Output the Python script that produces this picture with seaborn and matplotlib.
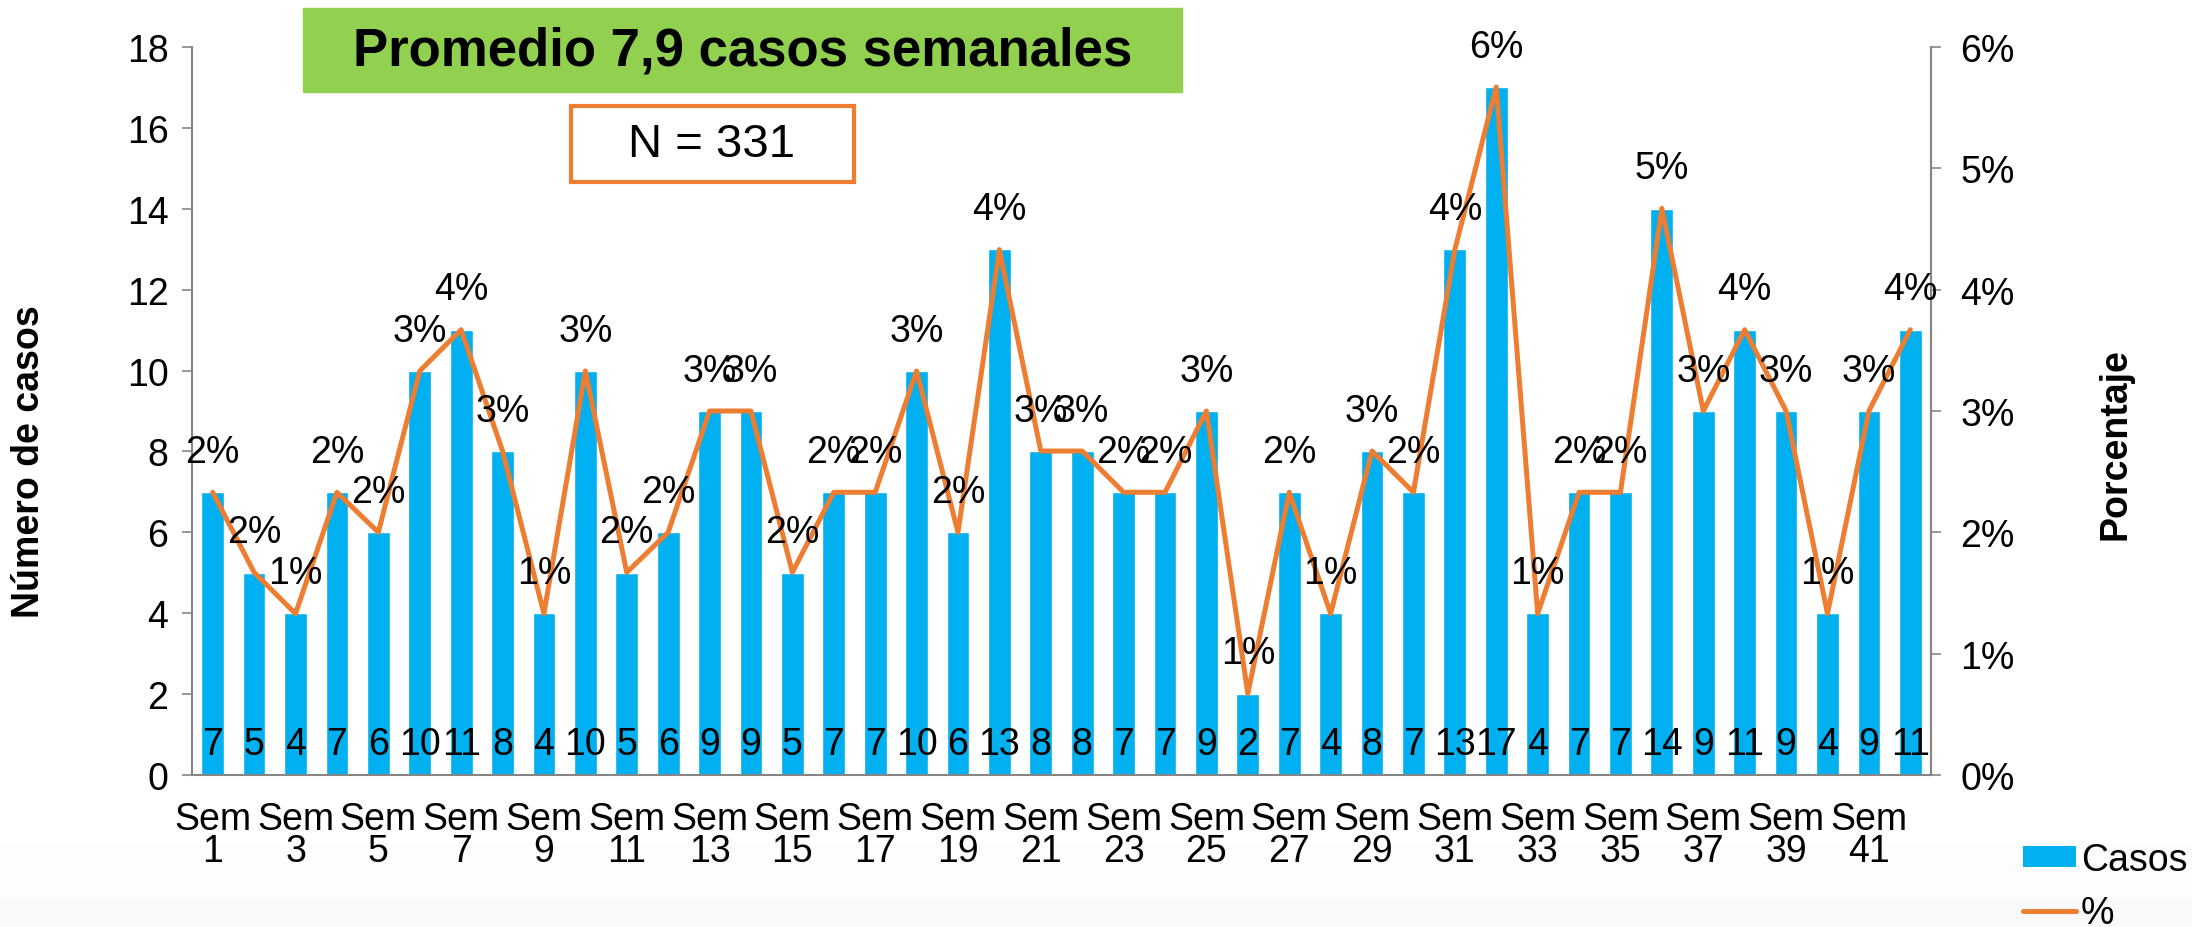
import matplotlib
matplotlib.use("Agg")
from matplotlib import pyplot as plt
from matplotlib.patches import Rectangle, Patch
from matplotlib.lines import Line2D
import numpy as np
import pandas as pd
import seaborn as sns

# datos
semanas = [f"Sem {i}" for i in range(1, 43)]
casos = [7, 5, 4, 7, 6, 10, 11, 8, 4, 10, 5, 6, 9, 9, 5, 7, 7, 10, 6, 13, 8,
         8, 7, 7, 9, 2, 7, 4, 8, 7, 13, 17, 4, 7, 7, 14, 9, 11, 9, 4, 9, 11]
porcentaje = [2.33, 1.67, 1.33, 2.33, 2.0, 3.33, 3.67, 2.67, 1.33, 3.33, 1.67,
              2.0, 3.0, 3.0, 1.67, 2.33, 2.33, 3.33, 2.0, 4.33, 2.67, 2.67,
              2.33, 2.33, 3.0, 0.67, 2.33, 1.33, 2.67, 2.33, 4.33, 5.67, 1.33,
              2.33, 2.33, 4.67, 3.0, 3.67, 3.0, 1.33, 3.0, 3.67]
etiquetas_pct = [2, 2, 1, 2, 2, 3, 4, 3, 1, 3, 2, 2, 3, 3, 2, 2, 2, 3, 2, 4, 3,
                 3, 2, 2, 3, 1, 2, 1, 3, 2, 4, 6, 1, 2, 2, 5, 3, 4, 3, 1, 3, 4]
titulo = "Promedio 7,9 casos semanales"
total = "N = 331"

AZUL = "#00B0F0"
NARANJA = "#ED7D31"
VERDE = "#92D050"
GRIS = "#868686"

sns.set_style("white")
plt.rcParams['font.family'] = ['Liberation Sans', 'DejaVu Sans']
plt.rcParams['text.color'] = 'black'
plt.rcParams['xtick.color'] = 'black'
plt.rcParams['ytick.color'] = 'black'
FS = 27

df = pd.DataFrame({"semana": semanas, "casos": casos, "pct": porcentaje})

W, H = 2192, 928
fig = plt.figure(figsize=(W / 100, H / 100), dpi=100)

# fondo gris muy claro abajo
fig.patches.append(Rectangle((0, 0), 1, 1 - 845 / H, transform=fig.transFigure,
                             color="#fdfdfd", zorder=-2))
fig.patches.append(Rectangle((0, 0), 1, 1 - 900 / H, transform=fig.transFigure,
                             color="#f9f9f9", zorder=-1))

x0, x1, y0, y1 = 192, 1931, 48, 776
ax = fig.add_axes([x0 / W, 1 - y1 / H, (x1 - x0) / W, (y1 - y0) / H])
ax.patch.set_alpha(0)

sns.barplot(data=df, x="semana", y="casos", color=AZUL, width=0.55,
            saturation=1, ax=ax)
ax.set_xlim(-0.5, 41.5)
ax.set_ylim(0, 18)
ax.set_yticks(range(0, 19, 2))
ax.set_xlabel("")
ax.set_ylabel("")

ticks = list(range(0, 42, 2))
ax.set_xticks(ticks)
ax.set_xticklabels([f"Sem\n{i + 1}" for i in ticks], fontsize=FS, linespacing=0.85)
ax.tick_params(axis="x", length=0, pad=19)
ax.tick_params(axis="y", direction="out", length=7, width=1.2, color=GRIS,
               labelsize=FS, pad=10, left=True)

ax.spines["top"].set_visible(False)
for s in ["left", "bottom", "right"]:
    ax.spines[s].set_color(GRIS)
    ax.spines[s].set_linewidth(1.5)

for i, v in enumerate(casos):
    ax.annotate(str(v), xy=(i, 0), xytext=(0, 22), textcoords="offset points",
                ha="center", va="center", fontsize=FS)

ax2 = ax.twinx()
sns.lineplot(x=np.arange(len(porcentaje)), y=porcentaje, color=NARANJA,
             linewidth=3.6, ax=ax2)
for l in ax2.lines:
    l.set_solid_joinstyle("round")
    l.set_solid_capstyle("round")
ax2.set_ylim(0, 6)
ax2.set_xlim(-0.5, 41.5)
ax2.set_yticks(range(0, 7))
ax2.set_yticklabels([f"{t}%" for t in range(0, 7)])
ax2.tick_params(axis="y", direction="out", length=7, width=1.2, color=GRIS,
                labelsize=FS, pad=14, right=True)
ax2.set_ylabel("")
for s in ["top", "left", "bottom"]:
    ax2.spines[s].set_visible(False)
ax2.spines["right"].set_color(GRIS)
ax2.spines["right"].set_linewidth(1.5)

for i, (p, lab) in enumerate(zip(porcentaje, etiquetas_pct)):
    ax2.annotate(f"{lab}%", xy=(i, p), xytext=(0, 29), textcoords="offset points",
                 ha="center", va="center", fontsize=FS)

fig.text(29 / W, 1 - 462 / H, "Número de casos", rotation=90, fontsize=27,
         fontweight="bold", ha="center", va="center")
fig.text(2115 / W, 1 - 444 / H, "Porcentaje", rotation=90, fontsize=27,
         fontweight="bold", ha="center", va="center")

# cuadro verde con el promedio
fig.patches.append(Rectangle((303 / W, 1 - 93 / H), (1182 - 303) / W, 84 / H,
                             transform=fig.transFigure, color=VERDE, zorder=3))
fig.text((303 + 1182) / 2 / W, 1 - 51 / H, titulo, fontsize=38,
         fontweight="bold", ha="center", va="center", zorder=4)

# cuadro N
fig.patches.append(Rectangle((571 / W, 1 - 183 / H), (854 - 571) / W, 76 / H,
                             transform=fig.transFigure, facecolor="white",
                             edgecolor=NARANJA, linewidth=3, zorder=3))
fig.text(712 / W, 1 - 145 / H, total, fontsize=34, ha="center", va="center",
         zorder=4)

handles = [Patch(facecolor=AZUL, edgecolor="none"),
           Line2D([], [], color=NARANJA, linewidth=3.6, solid_capstyle="round")]
fig.legend(handles, ["Casos", "%"], loc="upper left",
           bbox_to_anchor=(2023 / W, 1 - 843 / H), frameon=False, fontsize=FS,
           handlelength=1.4, handleheight=0.5, handletextpad=0.15,
           labelspacing=0.45, borderpad=0, borderaxespad=0)

fig.savefig("out.png", dpi=100)
